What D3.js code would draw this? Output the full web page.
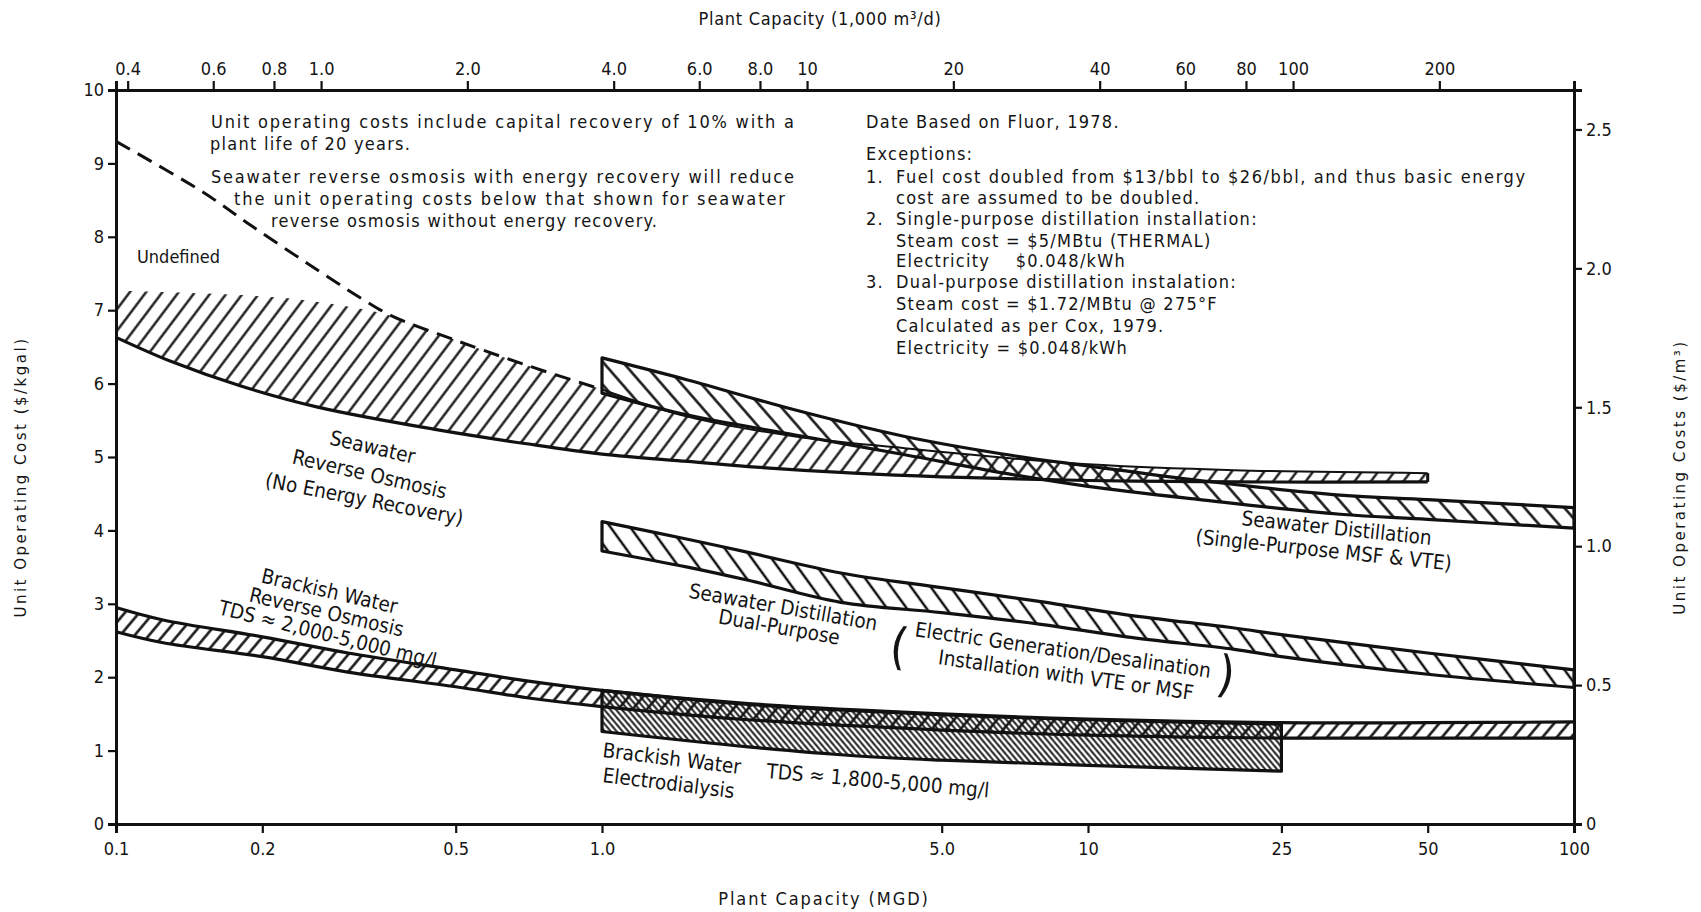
<!DOCTYPE html>
<html>
<head>
<meta charset="utf-8">
<script src="https://cdnjs.cloudflare.com/ajax/libs/d3/7.8.5/d3.min.js"></script>
<style>
  body { margin: 0; background: #fff; }
  svg text { fill: #141414; }
</style>
</head>
<body>
<svg id="chart" width="1701" height="912"></svg>
<script>
// plant capacity in MGD, unit cost in $/kgal  ([capacity, cost])
var swroLower = [[0.1, 6.63], [0.13, 6.30], [0.18, 5.97], [0.26, 5.68], [0.45, 5.38], [0.7, 5.18], [1.0, 5.04], [1.5, 4.94], [2.0, 4.87], [3.3, 4.78], [5, 4.73], [10, 4.68], [20, 4.66], [50, 4.66]];
var swroUpperDashed = [[0.1, 9.30], [0.15, 8.62], [0.19, 8.15], [0.25, 7.62], [0.32, 7.16], [0.37, 6.92], [0.5, 6.59], [0.7, 6.25], [1.0, 5.92]];
var swroUpper = [[1.0, 5.92], [1.5, 5.55], [2.5, 5.28], [4.2, 5.12], [7, 4.98], [10, 4.90], [20, 4.82], [50, 4.78]];
var swroHatchTop = [[0.1, 7.27], [0.15, 7.23], [0.22, 7.17], [0.3, 7.05], [0.37, 6.92], [0.5, 6.59], [0.7, 6.25]];

var spUpper = [[1, 6.35], [1.5, 6.05], [2.5, 5.64], [4.2, 5.28], [7, 5.02], [10, 4.88], [17, 4.68], [33, 4.48], [50, 4.42], [100, 4.31]];
var spLower = [[1, 5.87], [1.5, 5.57], [2.5, 5.30], [4.2, 5.03], [7, 4.76], [10, 4.60], [17, 4.42], [33, 4.22], [50, 4.15], [100, 4.03]];

var dpUpper = [[1, 4.12], [1.5, 3.88], [2, 3.70], [3.1, 3.42], [5, 3.22], [8, 3.03], [12, 2.85], [20, 2.67], [25, 2.58], [50, 2.33], [100, 2.10]];
var dpLower = [[1, 3.72], [1.5, 3.50], [2, 3.32], [3.1, 3.02], [5, 2.88], [8, 2.72], [12, 2.55], [20, 2.38], [25, 2.28], [50, 2.04], [100, 1.86]];

var bwroUpper = [[0.1, 2.95], [0.125, 2.78], [0.2, 2.55], [0.3, 2.33], [0.5, 2.10], [0.7, 1.95], [1, 1.82], [2, 1.64], [5, 1.50], [10, 1.43], [25, 1.38], [50, 1.38], [100, 1.39]];
var bwroLower = [[0.1, 2.62], [0.125, 2.47], [0.2, 2.28], [0.3, 2.07], [0.5, 1.87], [0.7, 1.72], [1, 1.60], [2, 1.42], [5, 1.28], [10, 1.21], [25, 1.17], [50, 1.17], [100, 1.17]];

var edUpper = [[1, 1.82], [2, 1.63], [5, 1.49], [10, 1.42], [25, 1.36]];
var edLower = [[1, 1.26], [2, 1.05], [3.3, 0.93], [5, 0.87], [10, 0.80], [25, 0.72]];

// axis ticks
var bottomTicks = [0.1, 0.2, 0.5, 1, 5, 10, 25, 50, 100];
var bottomLabels = ["0.1", "0.2", "0.5", "1.0", "5.0", "10", "25", "50", "100"];
var topTicks = [0.4, 0.6, 0.8, 1, 2, 4, 6, 8, 10, 20, 40, 60, 80, 100, 200];
var topLabels = ["0.4", "0.6", "0.8", "1.0", "2.0", "4.0", "6.0", "8.0", "10", "20", "40", "60", "80", "100", "200"];
var leftTicks = [0, 1, 2, 3, 4, 5, 6, 7, 8, 9, 10];
var rightTicks = [0, 0.5, 1, 1.5, 2, 2.5];
var rightLabels = ["0", "0.5", "1.0", "1.5", "2.0", "2.5"];

var M3_PER_KGAL = 3.785; // 1 MGD = 3.785 thousand m3/d, 1 $/kgal = 1/3.785 $/m3

var narrow = "'Liberation Sans Narrow', 'Arial Narrow', 'DejaVu Sans Condensed', 'Liberation Sans', sans-serif";
var wide = "'DejaVu Sans', 'Liberation Sans', sans-serif";

var svg = d3.select("#chart");
var defs = svg.append("defs");

var x = d3.scaleLog().domain([0.1, 100]).range([116, 1574]);
var y = d3.scaleLinear().domain([0, 10]).range([824, 90]);
var xTop = d3.scaleLog().domain([0.1 * M3_PER_KGAL, 100 * M3_PER_KGAL]).range(x.range());
var yRight = d3.scaleLinear().domain([0, 10 / M3_PER_KGAL]).range(y.range());

/*
 * hatch patterns, a single line turned by the pattern transform
 */
function addHatch(id, spacing, angle, width) {
    defs.append("pattern")
        .attr("id", id)
        .attr("patternUnits", "userSpaceOnUse")
        .attr("width", spacing)
        .attr("height", spacing)
        .attr("patternTransform", "rotate(" + angle + ")")
        .append("line")
        .attr("x1", spacing / 2).attr("y1", -1)
        .attr("x2", spacing / 2).attr("y2", spacing + 1)
        .attr("stroke", "#111")
        .attr("stroke-width", width);
}
addHatch("h-swro", 13, 37, 2.3);
addHatch("h-sp", 15, -41, 2.5);
addHatch("h-dp", 16, -36, 2.5);
addHatch("h-bwro", 11, 40, 2.5);
addHatch("h-ed", 4.5, -40, 1.9);

var line = d3.line()
    .x(function (d) { return x(d[0]); })
    .y(function (d) { return y(d[1]); })
    .curve(d3.curveCatmullRom.alpha(0.5));

// closed band: upper edge left to right, lower edge back
function bandPath(upper, lower) {
    var back = line(lower.slice().reverse());
    return line(upper) + "L" + back.slice(1) + "Z";
}

var bands = svg.append("g").attr("class", "bands");

// fills first
bands.append("path")
    .attr("d", bandPath(swroHatchTop.concat(swroUpper), swroLower))
    .attr("fill", "url(#h-swro)");
bands.append("path")
    .attr("d", bandPath(spUpper, spLower))
    .attr("fill", "url(#h-sp)");
bands.append("path")
    .attr("d", bandPath(dpUpper, dpLower))
    .attr("fill", "url(#h-dp)");
bands.append("path")
    .attr("d", bandPath(bwroUpper, bwroLower))
    .attr("fill", "url(#h-bwro)");
bands.append("path")
    .attr("d", bandPath(edUpper, edLower))
    .attr("fill", "url(#h-ed)");

// outlines
function stroke(d, w, dash) {
    bands.append("path")
        .attr("d", d)
        .attr("fill", "none")
        .attr("stroke", "#111")
        .attr("stroke-width", w)
        .attr("stroke-linejoin", "round")
        .attr("stroke-dasharray", dash || null);
}
stroke(line(swroUpperDashed), 3, "16,9");
stroke(line(swroLower), 3.2);
stroke(line(swroUpper), 2);
stroke("M" + x(50) + "," + y(swroLower[swroLower.length - 1][1]) + "L" + x(50) + "," + y(swroUpper[swroUpper.length - 1][1]), 3);
stroke(bandPath(spUpper, spLower), 3.2);
stroke(bandPath(dpUpper, dpLower), 3.2);
stroke(line(bwroUpper), 3.2);
stroke(line(bwroLower), 3.2);
stroke(bandPath(edUpper, edLower), 3.2);

/*
 * axes
 */
function labelOf(ticks, labels) {
    return function (d) { return labels[ticks.indexOf(d)]; };
}
function styleAxis(g, size) {
    g.select(".domain").attr("stroke", "#111").attr("stroke-width", 3);
    g.selectAll(".tick line").attr("stroke", "#111").attr("stroke-width", 2.2);
    g.selectAll(".tick text")
        .attr("fill", "#141414")
        .style("font-family", narrow)
        .style("font-size", size + "px");
}

svg.append("g")
    .attr("transform", "translate(0," + y(0) + ")")
    .call(d3.axisBottom(x).tickValues(bottomTicks).tickFormat(labelOf(bottomTicks, bottomLabels))
        .tickSizeOuter(0).tickSize(9).tickPadding(9))
    .call(styleAxis, 18);

svg.append("g")
    .attr("transform", "translate(0," + y(10) + ")")
    .call(d3.axisTop(xTop).tickValues(topTicks).tickFormat(labelOf(topTicks, topLabels))
        .tickSizeOuter(0).tickSize(9).tickPadding(6))
    .call(styleAxis, 18);

svg.append("g")
    .attr("transform", "translate(" + x(0.1) + ",0)")
    .call(d3.axisLeft(y).tickValues(leftTicks).tickFormat(d3.format("d"))
        .tickSizeOuter(0).tickSize(8).tickPadding(4))
    .call(styleAxis, 18);

svg.append("g")
    .attr("transform", "translate(" + x(100) + ",0)")
    .call(d3.axisRight(yRight).tickValues(rightTicks).tickFormat(labelOf(rightTicks, rightLabels))
        .tickSizeOuter(0).tickSize(8).tickPadding(4))
    .call(styleAxis, 18);

// axis titles
svg.append("text")
    .attr("x", 820).attr("y", 25)
    .attr("text-anchor", "middle")
    .style("font-family", narrow).style("font-size", "18px").style("letter-spacing", "0.7px")
    .text("Plant Capacity (1,000 m³/d)");
svg.append("text")
    .attr("x", 824).attr("y", 905)
    .attr("text-anchor", "middle")
    .style("font-family", narrow).style("font-size", "18px").style("letter-spacing", "1.9px")
    .text("Plant Capacity (MGD)");
svg.append("text")
    .attr("transform", "translate(26,477) rotate(-90)")
    .attr("text-anchor", "middle")
    .style("font-family", wide).style("font-size", "15px").style("letter-spacing", "2.5px")
    .text("Unit Operating Cost ($/kgal)");
svg.append("text")
    .attr("transform", "translate(1685,477) rotate(-90)")
    .attr("text-anchor", "middle")
    .style("font-family", wide).style("font-size", "15px").style("letter-spacing", "2.5px")
    .text("Unit Operating Costs ($/m³)");

/*
 * notes
 */
var notesLeft = [
    { t: "Unit operating costs include capital recovery of 10% with a", x: 211, y: 128, w: 583 },
    { t: "plant life of 20 years.", x: 210, y: 150 },
    { t: "Seawater reverse osmosis with energy recovery will reduce", x: 211, y: 183, w: 583 },
    { t: "the unit operating costs below that shown for seawater", x: 234, y: 205, w: 551 },
    { t: "reverse osmosis without energy recovery.", x: 271, y: 227, w: 386 }
];
var notesRight = [
    { t: "Date Based on Fluor, 1978.", x: 866, y: 128 },
    { t: "Exceptions:", x: 866, y: 160 },
    { t: "1.", x: 866, y: 183 },
    { t: "Fuel cost doubled from $13/bbl to $26/bbl, and thus basic energy", x: 896, y: 183, w: 629 },
    { t: "cost are assumed to be doubled.", x: 896, y: 204 },
    { t: "2.", x: 866, y: 225 },
    { t: "Single-purpose distillation installation:", x: 896, y: 225 },
    { t: "Steam cost = $5/MBtu (THERMAL)", x: 896, y: 247 },
    { t: "Electricity    $0.048/kWh", x: 896, y: 267 },
    { t: "3.", x: 866, y: 288 },
    { t: "Dual-purpose distillation instalation:", x: 896, y: 288 },
    { t: "Steam cost = $1.72/MBtu @ 275°F", x: 896, y: 310 },
    { t: "Calculated as per Cox, 1979.", x: 896, y: 332 },
    { t: "Electricity = $0.048/kWh", x: 896, y: 354 }
];
function notes(list, size) {
    svg.append("g").selectAll("text")
        .data(list)
        .enter().append("text")
        .attr("x", function (d) { return d.x; })
        .attr("y", function (d) { return d.y; })
        .attr("textLength", function (d) { return d.w || null; })
        .attr("lengthAdjust", "spacing")
        .style("font-family", narrow)
        .style("font-size", size + "px")
        .style("letter-spacing", function (d) { return d.w ? null : "1.25px"; })
        .style("white-space", "pre")
        .text(function (d) { return d.t; });
}
notes(notesLeft, 18);
notes(notesRight, 18);

/*
 * curve labels, rotated along the bands
 */
var bandLabels = [
    { t: "Undefined", x: 137, y: 263, r: 0, a: "start" },
    { t: "Seawater", x: 371, y: 454, r: 13 },
    { t: "Reverse Osmosis", x: 368, y: 481, r: 13 },
    { t: "(No Energy Recovery)", x: 363, y: 506, r: 11 },
    { t: "Brackish Water", x: 328, y: 598, r: 13 },
    { t: "Reverse Osmosis", x: 325, y: 619, r: 13 },
    { t: "TDS ≈ 2,000-5,000 mg/l", x: 326, y: 641, r: 14 },
    { t: "Seawater Distillation", x: 782, y: 614, r: 10 },
    { t: "Dual-Purpose", x: 778, y: 634, r: 10 },
    { t: "Electric Generation/Desalination", x: 1062, y: 657, r: 8 },
    { t: "Installation with VTE or MSF", x: 1065, y: 682, r: 8 },
    { t: "Seawater Distillation", x: 1336, y: 535, r: 6 },
    { t: "(Single-Purpose MSF & VTE)", x: 1323, y: 557, r: 6 },
    { t: "Brackish Water", x: 602, y: 757, r: 7, a: "start" },
    { t: "Electrodialysis", x: 602, y: 782, r: 7, a: "start" },
    { t: "TDS ≈ 1,800-5,000 mg/l", x: 766, y: 778, r: 5, a: "start" }
];
svg.append("g").selectAll("text")
    .data(bandLabels)
    .enter().append("text")
    .attr("transform", function (d) { return "translate(" + d.x + "," + d.y + ") rotate(" + d.r + ")"; })
    .attr("text-anchor", function (d) { return d.a || "middle"; })
    .style("font-family", narrow)
    .style("font-size", function (d) { return d.t === "Undefined" ? "18px" : "20.5px"; })
    .text(function (d) { return d.t; });

// big brackets round the dual-purpose note
svg.append("text")
    .attr("transform", "translate(888,662) rotate(8)")
    .style("font-family", narrow).style("font-size", "50px").style("font-weight", "300")
    .text("(");
svg.append("text")
    .attr("transform", "translate(1215,690) rotate(8)")
    .style("font-family", narrow).style("font-size", "50px").style("font-weight", "300")
    .text(")");
</script>
</body>
</html>
